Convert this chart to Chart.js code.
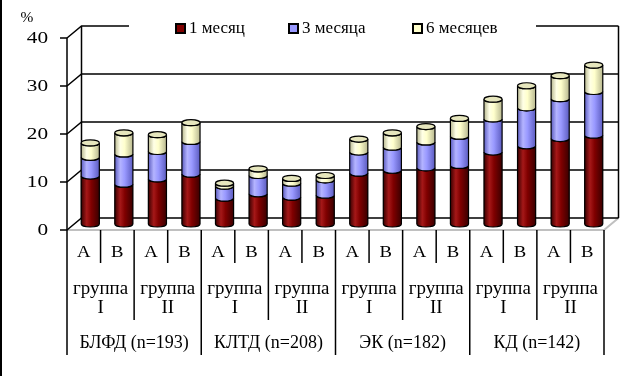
<!DOCTYPE html>
<html>
<head>
<meta charset="utf-8">
<script src="https://cdn.jsdelivr.net/npm/chart.js@4"></script>
<style>
  html, body { margin: 0; padding: 0; background: #fff; }
  #wrap { width: 643px; height: 376px; position: relative; }
</style>
</head>
<body>
<div id="wrap"><canvas id="chart" width="643" height="376"></canvas></div>
<script>
// categories (bottom axis, three levels)
const subLabels = ['А', 'В', 'А', 'В', 'А', 'В', 'А', 'В', 'А', 'В', 'А', 'В', 'А', 'В', 'А', 'В'];
const groupLabels = [['группа', 'I'], ['группа', 'II'], ['группа', 'I'], ['группа', 'II'],
                     ['группа', 'I'], ['группа', 'II'], ['группа', 'I'], ['группа', 'II']];
const mainLabels = ['БЛФД (n=193)', 'КЛТД (n=208)', 'ЭК (n=182)', 'КД (n=142)'];

// series values, %
const month1 = [10.0, 8.3, 9.4, 10.4, 5.4, 6.3, 5.6, 6.0, 10.6, 11.2, 11.7, 12.2, 15.0, 16.3, 17.8, 18.5];
const month3 = [3.9, 6.3, 5.7, 6.8, 2.5, 3.8, 2.9, 3.2, 4.4, 4.8, 5.4, 6.1, 6.9, 7.9, 8.3, 9.1];
const month6 = [3.0, 4.4, 3.5, 3.9, 0.6, 1.4, 1.0, 0.9, 2.7, 3.0, 3.2, 3.7, 4.1, 4.6, 4.8, 5.5];

const yTicks = [0, 10, 20, 30, 40];

const seriesNames = ['1 месяц', '3 месяца', '6 месяцев'];
const seriesColors = ['#800000', '#9999ff', '#ffffcc'];
const seriesDark = ['#3a0000', '#5c5cc0', '#b8b890'];
const seriesLight = ['#a51818', '#b4b4ff', '#ffffe6'];

const SERIF = '"Liberation Serif", "Times New Roman", serif';
// 3D depth offsets (front plane / back wall relative to the bars)
const DXF = -6.5, DYF = 6, DXB = 8, DYB = -6;

function stretchedText(ctx, text, x, y, size, align, sx) {
  ctx.save();
  ctx.font = size + 'px ' + SERIF;
  ctx.textBaseline = 'middle';
  ctx.translate(x, y);
  ctx.scale(sx, 1);
  const w = ctx.measureText(text).width;
  let dx = 0;
  if (align === 'center') dx = -w / 2;
  if (align === 'right') dx = -w;
  ctx.textAlign = 'left';
  ctx.fillText(text, dx, 0);
  ctx.restore();
}

// back wall, floor, front axis
const framePlugin = {
  id: 'frame',
  beforeDatasetsDraw(chart) {
    const ctx = chart.ctx;
    const a = chart.chartArea;
    const ys = chart.scales.y;
    const y0 = ys.getPixelForValue(0);
    ctx.save();
    // floor
    ctx.strokeStyle = '#c0c0c0';
    ctx.lineWidth = 2;
    ctx.beginPath();
    ctx.moveTo(a.left + DXF, y0 + DYF);
    ctx.lineTo(a.right + DXF, y0 + DYF);
    ctx.lineTo(a.right + DXB, y0 + DYB);
    ctx.stroke();
    // back wall gridlines + left wall diagonals
    ctx.strokeStyle = '#000';
    ctx.lineWidth = 1.5;
    yTicks.forEach(v => {
      const y = ys.getPixelForValue(v);
      ctx.beginPath();
      ctx.moveTo(a.left + DXF, y + DYF);
      ctx.lineTo(a.left + DXB, y + DYB);
      ctx.lineTo(a.right + DXB, y + DYB);
      ctx.stroke();
    });
    const yTop = ys.getPixelForValue(40);
    ctx.beginPath();
    ctx.moveTo(a.left + DXB, yTop + DYB);
    ctx.lineTo(a.left + DXB, y0 + DYB);
    ctx.moveTo(a.right + DXB, yTop + DYB);
    ctx.lineTo(a.right + DXB, y0 + DYB);
    ctx.stroke();
    ctx.restore();
  },
  afterDraw(chart) {
    const ctx = chart.ctx;
    const a = chart.chartArea;
    const ys = chart.scales.y;
    const xs = chart.scales.x;
    const y0 = ys.getPixelForValue(0);
    const yF = y0 + DYF;
    ctx.save();
    // left border of the picture
    ctx.fillStyle = '#000';
    ctx.fillRect(0, 0, 2, chart.height);
    // front value axis
    ctx.strokeStyle = '#000';
    ctx.lineWidth = 1.5;
    ctx.beginPath();
    ctx.moveTo(a.left + DXF, ys.getPixelForValue(40) + DYF);
    ctx.lineTo(a.left + DXF, yF + 125);
    yTicks.forEach(v => {
      const y = ys.getPixelForValue(v) + DYF;
      ctx.moveTo(a.left + DXF - 7, y);
      ctx.lineTo(a.left + DXF, y);
    });
    ctx.stroke();
    ctx.fillStyle = '#000';
    yTicks.forEach(v => {
      stretchedText(ctx, String(v), 48, ys.getPixelForValue(v) + DYF + 1, 17, 'right', 1.25);
    });
    stretchedText(ctx, '%', 27, 18, 14, 'center', 1.1);

    // category axis: separators and three label rows
    const step = xs.getPixelForValue(1) - xs.getPixelForValue(0);
    const n = subLabels.length;
    for (let i = 1; i <= n; i++) {
      const x = xs.getPixelForValue(i) - step / 2 + DXF;
      let len = 33;
      if (i % 2 === 0) len = 90;
      if (i % 4 === 0) len = 125;
      ctx.beginPath();
      ctx.moveTo(x, yF);
      ctx.lineTo(x, yF + len);
      ctx.stroke();
    }
    subLabels.forEach((t, i) => {
      stretchedText(ctx, t, xs.getPixelForValue(i) + DXF, yF + 23, 17, 'center', 1.1);
    });
    groupLabels.forEach((t, g) => {
      const x = (xs.getPixelForValue(2 * g) + xs.getPixelForValue(2 * g + 1)) / 2 + DXF;
      stretchedText(ctx, t[0], x, yF + 59, 18, 'center', 1.05);
      stretchedText(ctx, t[1], x, yF + 78, 18, 'center', 1.05);
    });
    mainLabels.forEach((t, m) => {
      const x = (xs.getPixelForValue(4 * m) + xs.getPixelForValue(4 * m + 3)) / 2 + DXF;
      stretchedText(ctx, t, x, yF + 113, 18, 'center', 1.0);
    });

    // legend
    ctx.fillStyle = '#fff';
    ctx.fillRect(129, 14, 407, 26);
    const legendX = [176, 289, 413];
    chart.data.datasets.forEach((ds, i) => {
      ctx.fillStyle = ds.backgroundColor;
      ctx.fillRect(legendX[i], 24, 9, 9);
      ctx.strokeStyle = '#000';
      ctx.lineWidth = 2;
      ctx.strokeRect(legendX[i], 24, 9, 9);
      ctx.fillStyle = '#000';
      ctx.font = '17px ' + SERIF;
      ctx.textAlign = 'left';
      ctx.textBaseline = 'middle';
      ctx.fillText(ds.label, legendX[i] + 13, 29);
    });
    ctx.restore();
  }
};

// cylinder shading on top of the library's bars
const cylinderPlugin = {
  id: 'cylinders',
  afterDatasetsDraw(chart) {
    const ctx = chart.ctx;
    const metas = chart.data.datasets.map((d, i) => chart.getDatasetMeta(i));
    const ry = 3;
    ctx.save();
    metas[0].data.forEach((bar0, j) => {
      metas.forEach((meta, di) => {
        const el = meta.data[j];
        const x = el.x, w = el.width, top = el.y, base = el.base;
        const l = x - w / 2, r = x + w / 2, rx = w / 2;
        const g = ctx.createLinearGradient(l, 0, r, 0);
        g.addColorStop(0, seriesDark[di]);
        g.addColorStop(0.3, seriesLight[di]);
        g.addColorStop(0.55, seriesColors[di]);
        g.addColorStop(1, seriesDark[di]);
        ctx.beginPath();
        ctx.moveTo(l, top);
        ctx.lineTo(l, base);
        ctx.ellipse(x, base, rx, ry, 0, Math.PI, 0, true);
        ctx.lineTo(r, top);
        ctx.ellipse(x, top, rx, ry, 0, 0, Math.PI, false);
        ctx.closePath();
        ctx.fillStyle = g;
        ctx.fill();
        ctx.strokeStyle = '#000';
        ctx.lineWidth = 1.2;
        ctx.stroke();
        if (di === metas.length - 1) {
          ctx.beginPath();
          ctx.ellipse(x, top, rx, ry, 0, 0, Math.PI * 2);
          ctx.fillStyle = '#e6e6bd';
          ctx.fill();
          ctx.stroke();
        }
      });
    });
    ctx.restore();
  }
};

new Chart(document.getElementById('chart'), {
  type: 'bar',
  data: {
    labels: subLabels,
    datasets: [
      { label: seriesNames[0], data: month1, backgroundColor: seriesColors[0] },
      { label: seriesNames[1], data: month3, backgroundColor: seriesColors[1] },
      { label: seriesNames[2], data: month6, backgroundColor: seriesColors[2] }
    ]
  },
  options: {
    responsive: false,
    animation: false,
    layout: { padding: { left: 73.5, right: 32.5, top: 32, bottom: 152 } },
    datasets: { bar: { categoryPercentage: 1, barPercentage: 0.54, borderWidth: 0 } },
    plugins: { legend: { display: false }, tooltip: { enabled: false } },
    scales: {
      x: { stacked: true, display: false },
      y: { stacked: true, display: false, min: 0, max: 40 }
    }
  },
  plugins: [framePlugin, cylinderPlugin]
});
</script>
</body>
</html>
